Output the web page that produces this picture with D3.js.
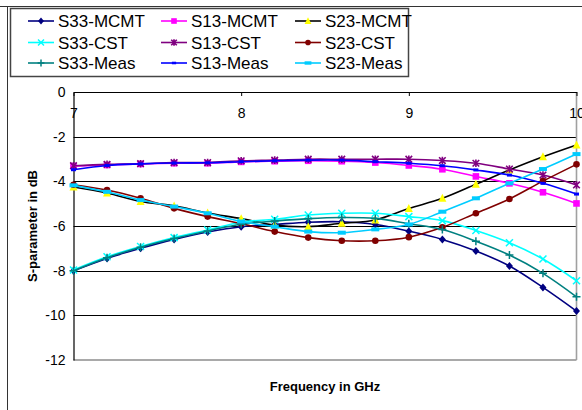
<!DOCTYPE html>
<html><head><meta charset="utf-8">
<script src="https://cdn.jsdelivr.net/npm/d3@7"></script>
<style>
html,body{margin:0;padding:0;background:#fff;}
svg{display:block;}
</style></head>
<body>
<script>
// ---- data ----
const freqs = [7.0,7.2,7.4,7.6,7.8,8.0,8.2,8.4,8.6,8.8,9.0,9.2,9.4,9.6,9.8,10.0];
const xTicks = [7,8,9,10];
const yTicks = [0,-2,-4,-6,-8,-10,-12];
const seriesNames = ["S33-MCMT","S13-MCMT","S23-MCMT","S33-CST","S13-CST","S23-CST","S33-Meas","S13-Meas","S23-Meas"];
const s33MCMT = [-8.0,-7.45,-7.0,-6.6,-6.27,-6.03,-5.93,-5.83,-5.81,-5.93,-6.23,-6.6,-7.12,-7.79,-8.75,-9.81];
const s13MCMT = [-3.32,-3.27,-3.22,-3.19,-3.19,-3.13,-3.10,-3.08,-3.10,-3.16,-3.29,-3.46,-3.78,-4.09,-4.49,-4.99];
const s23MCMT = [-4.25,-4.52,-4.9,-5.1,-5.42,-5.67,-5.96,-6.03,-5.88,-5.73,-5.22,-4.76,-4.13,-3.49,-2.9,-2.37];
const s33CST  = [-7.97,-7.38,-6.92,-6.52,-6.18,-5.83,-5.70,-5.51,-5.43,-5.43,-5.58,-5.76,-6.2,-6.75,-7.48,-8.45];
const s13CST  = [-3.3,-3.24,-3.21,-3.16,-3.16,-3.08,-3.05,-3.01,-3.01,-3.01,-3.01,-3.07,-3.19,-3.45,-3.72,-4.16];
const s23CST  = [-4.15,-4.39,-4.76,-5.21,-5.58,-5.89,-6.25,-6.52,-6.66,-6.66,-6.5,-6.06,-5.43,-4.79,-3.99,-3.24];
const s33Meas = [-8.0,-7.42,-6.95,-6.56,-6.22,-5.92,-5.78,-5.67,-5.62,-5.66,-5.9,-6.16,-6.68,-7.3,-8.12,-9.17];
const s13Meas = [-3.48,-3.29,-3.22,-3.18,-3.17,-3.12,-3.08,-3.05,-3.05,-3.12,-3.19,-3.3,-3.49,-3.72,-4.09,-4.57];
const s23Meas = [-4.18,-4.47,-4.84,-5.13,-5.43,-5.8,-6.03,-6.25,-6.3,-6.15,-5.93,-5.36,-4.76,-4.09,-3.45,-2.78];
const seriesValues = [s33MCMT,s13MCMT,s23MCMT,s33CST,s13CST,s23CST,s33Meas,s13Meas,s23Meas];

// ---- styles ----
const styles = [
  {line:"#000080", fill:"#000080", marker:"diamond"},
  {line:"#FF00FF", fill:"#FF00FF", marker:"square"},
  {line:"#000000", fill:"#FFFF00", marker:"triangle"},
  {line:"#00FFFF", fill:"#00FFFF", marker:"x"},
  {line:"#800080", fill:"#800080", marker:"star"},
  {line:"#800000", fill:"#800000", marker:"circle"},
  {line:"#008080", fill:"#008080", marker:"plus"},
  {line:"#0000FF", fill:"#0000FF", marker:"smalldash"},
  {line:"#00CCFF", fill:"#00CCFF", marker:"dash"}
];

const W = 582, H = 410;
const svg = d3.select("body").append("svg").attr("width",W).attr("height",H);

// outer chart border
svg.append("line").attr("x1",0).attr("x2",W).attr("y1",6.5).attr("y2",6.5).attr("stroke","#333").attr("stroke-width",1);
svg.append("line").attr("x1",7.5).attr("x2",7.5).attr("y1",6).attr("y2",H).attr("stroke","#333").attr("stroke-width",1);

const x = d3.scaleLinear().domain([7,10]).range([73.5,576.5]);
const y = d3.scaleLinear().domain([0,-12]).range([92,360]);

// gridlines
svg.append("g").selectAll("line").data(yTicks.filter(d=>d<0 && d>-12)).join("line")
  .attr("x1",x(7)).attr("x2",x(10))
  .attr("y1",d=>Math.round(y(d))+0.5).attr("y2",d=>Math.round(y(d))+0.5)
  .attr("stroke","#000").attr("stroke-width",1);
// plot border bottom & right (grey)
svg.append("line").attr("x1",x(7)).attr("x2",x(10)).attr("y1",y(-12)).attr("y2",y(-12)).attr("stroke","#8c8c8c").attr("stroke-width",1.6);
svg.append("line").attr("x1",x(10)).attr("x2",x(10)).attr("y1",y(0)).attr("y2",y(-12)).attr("stroke","#a0a0a0").attr("stroke-width",1.6);

// y axis
const yAxis = d3.axisLeft(y).tickValues(yTicks).tickSize(0).tickPadding(8).tickFormat(d=>String(d));
const gy = svg.append("g").attr("transform",`translate(${x(7)},0)`).call(yAxis);
gy.select(".domain").attr("stroke","#000").attr("stroke-width",1.2);
gy.selectAll("text").attr("font-family","'Liberation Sans',Arial,sans-serif").attr("font-size",14).attr("fill","#000");

// x axis at top (y=0) with ticks downward
const xAxis = d3.axisBottom(x).tickValues(xTicks).tickSize(4).tickSizeOuter(0).tickPadding(12).tickFormat(d=>String(d));
const gx = svg.append("g").attr("transform",`translate(0,${y(0)})`).call(xAxis);
gx.select(".domain").attr("stroke","#000").attr("stroke-width",1.2);
gx.selectAll(".tick line").attr("stroke","#000");
gx.selectAll("text").attr("font-family","'Liberation Sans',Arial,sans-serif").attr("font-size",14).attr("fill","#000");

// marker drawing
function drawMarker(g, type, cx, cy, st, scale) {
  const s = scale || 1;
  switch(type){
    case "diamond":
      g.append("path").attr("d",`M${cx},${cy-4*s}L${cx+3.5*s},${cy}L${cx},${cy+4*s}L${cx-3.5*s},${cy}Z`).attr("fill",st.fill); break;
    case "square":
      g.append("rect").attr("x",cx-3.3*s).attr("y",cy-3.3*s).attr("width",6.6*s).attr("height",6.6*s).attr("fill",st.fill); break;
    case "triangle":
      g.append("path").attr("d",`M${cx},${cy-4.5*s}L${cx+4*s},${cy+3.5*s}L${cx-4*s},${cy+3.5*s}Z`).attr("fill",st.fill); break;
    case "circle":
      g.append("circle").attr("cx",cx).attr("cy",cy).attr("r",3.3*s).attr("fill",st.fill); break;
    case "x":
      g.append("path").attr("d",`M${cx-3.5*s},${cy-3.5*s}L${cx+3.5*s},${cy+3.5*s}M${cx+3.5*s},${cy-3.5*s}L${cx-3.5*s},${cy+3.5*s}`).attr("stroke",st.fill).attr("stroke-width",1.5).attr("fill","none"); break;
    case "star":
      g.append("path").attr("d",`M${cx-3.3*s},${cy-3.3*s}L${cx+3.3*s},${cy+3.3*s}M${cx+3.3*s},${cy-3.3*s}L${cx-3.3*s},${cy+3.3*s}M${cx},${cy-3.8*s}L${cx},${cy+3.8*s}`).attr("stroke",st.fill).attr("stroke-width",1.6).attr("fill","none"); break;
    case "plus":
      g.append("path").attr("d",`M${cx-4*s},${cy}L${cx+4*s},${cy}M${cx},${cy-4*s}L${cx},${cy+4*s}`).attr("stroke",st.fill).attr("stroke-width",1.5).attr("fill","none"); break;
    case "smalldash":
      g.append("rect").attr("x",cx-2.5*s).attr("y",cy-1.5*s).attr("width",5*s).attr("height",3*s).attr("fill",st.fill); break;
    case "dash":
      g.append("rect").attr("x",cx-4*s).attr("y",cy-2*s).attr("width",8*s).attr("height",4*s).attr("fill",st.fill); break;
  }
}

// series
const lineGen = d3.line().x(d=>x(d[0])).y(d=>y(d[1])).curve(d3.curveCatmullRom.alpha(0.5));
seriesValues.forEach((vals,i)=>{
  const st = styles[i];
  const pts = freqs.map((f,j)=>[f,vals[j]]);
  const g = svg.append("g");
  g.append("path").attr("d",lineGen(pts)).attr("fill","none").attr("stroke",st.line).attr("stroke-width",1.6);
  pts.forEach(p=>drawMarker(g, st.marker, x(p[0]), y(p[1]), st));
});

// legend
svg.append("rect").attr("x",10.5).attr("y",8.5).attr("width",398).attr("height",68)
  .attr("fill","#fff").attr("stroke","#444").attr("stroke-width",1.5);
const colX = [28,161,295];
const rowY = [21,42.5,63];
seriesNames.forEach((name,i)=>{
  const c = i%3, r = Math.floor(i/3);
  const st = styles[i];
  const g = svg.append("g");
  g.append("line").attr("x1",colX[c]).attr("x2",colX[c]+26).attr("y1",rowY[r]).attr("y2",rowY[r]).attr("stroke",st.line).attr("stroke-width",1.6);
  drawMarker(g, st.marker, colX[c]+13, rowY[r], st, 0.85);
  g.append("text").attr("x",colX[c]+30).attr("y",rowY[r]).attr("dy","0.36em")
    .attr("font-family","'Liberation Sans Narrow','Arial Narrow',sans-serif").attr("font-size",17)
    .attr("fill","#000").text(name);
});

// axis titles
svg.append("text").attr("x",(x(7)+x(10))/2).attr("y",391).attr("text-anchor","middle")
  .attr("font-family","'Liberation Sans',Arial,sans-serif").attr("font-weight","bold").attr("font-size",13)
  .attr("fill","#000").text("Frequency in GHz");
svg.append("text").attr("transform",`translate(37,${(y(0)+y(-12))/2}) rotate(-90)`).attr("text-anchor","middle")
  .attr("font-family","'Liberation Sans',Arial,sans-serif").attr("font-weight","bold").attr("font-size",13)
  .attr("fill","#000").text("S-parameter in dB");
</script>
</body></html>
